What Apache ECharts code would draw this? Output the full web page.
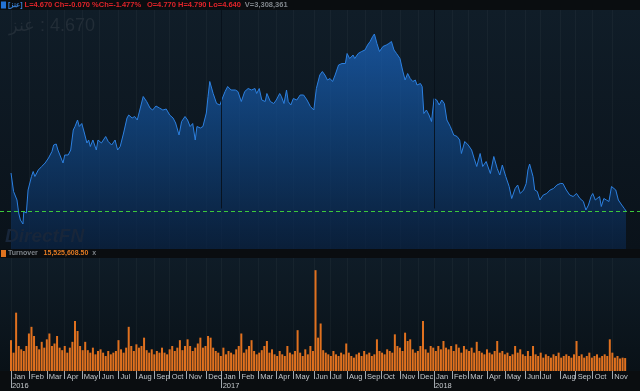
<!DOCTYPE html>
<html>
<head>
<meta charset="utf-8">
<script src="https://cdn.jsdelivr.net/npm/echarts@6/dist/echarts.min.js"></script>
<style>
html,body{margin:0;padding:0;background:#0a0d10;}
#c{width:640px;height:391px;}
</style>
</head>
<body>
<div id="c"></div>
<script>
// ---- data (trading-day index, price) ----
const priceDay = [
0,3,7,9,11,14,15,18,20,24,
26,28,32,36,40,44,48,50,53,55,
57,61,63,67,70,73,75,78,80,83,
86,89,91,93,96,100,102,106,111,114,
118,122,125,128,132,136,138,142,145,148,
151,155,159,163,166,170,174,178,182,186,
190,193,197,200,204,207,210,213,216,218,
222,225,229,231,233,237,241,245,247,251,
254,258,263,266,270,274,278,282,286,288,
291,294,298,300,304,308,311,315,317,320,
323,325,328,331,335,339,343,347,351,355,
358,362,365,368,371,374,377,380,384,388,
392,394,397,401,403,407,411,415,418,421,
424,426,429,432,436,440,443,446,449,452,
456,459,462,465,468,471,474,476,480,482,
484,487,490,493,496,499,502,505,508,511,
515,519,523,526,528,532,536,540,543,546,
550,553,557,562,566,570,573,576,580,584,
587,591,594,597,601,604,606,608,612,614,
617,620,624,628,632,636,640,644,647,651,
655,659,663,667,671,674,677,680,682,685,
687,690,692,695,698,701,704,706,709,712,
716,719,721];
const priceValue = [
5.43,5.06,4.89,4.63,4.49,4.41,4.66,4.63,5.09,5.36,
5.46,5.36,5.49,5.56,5.63,5.73,5.86,5.99,6.01,5.89,
5.93,5.63,5.79,5.79,5.89,6.29,6.36,6.49,6.36,6.42,
6.23,6.03,6.09,5.96,6.09,5.89,6.09,6.03,6.16,6.06,
5.99,6.09,5.89,5.96,6.23,6.53,6.59,6.53,6.56,6.49,
6.69,6.96,6.86,6.73,6.69,6.77,6.73,6.69,6.71,6.59,
6.53,6.43,6.19,6.46,6.56,6.49,6.36,6.42,6.09,6.36,
6.33,6.36,6.63,6.96,7.26,7.02,6.82,6.79,6.89,7.06,
7.16,7.09,7.09,7.06,6.86,7.06,7.12,7.09,7.12,7.02,
7.12,6.89,6.86,7.02,6.86,6.82,6.89,7.02,6.96,6.82,
7.09,6.86,6.79,6.92,6.89,6.99,6.99,6.89,6.76,6.69,
7.12,7.39,7.46,7.39,7.29,7.32,7.26,7.39,7.59,7.62,
7.62,7.82,7.72,7.79,7.72,7.82,7.86,7.89,7.99,8.06,
8.16,8.21,8.02,7.86,7.96,7.99,8.02,8.06,7.89,7.82,
7.72,7.49,7.29,7.42,7.32,7.26,7.29,7.19,7.22,7.16,
6.62,6.69,6.59,6.46,6.92,6.89,6.79,6.89,6.82,6.49,
6.36,6.19,6.16,6.09,5.82,6.06,5.99,5.89,5.72,5.56,
5.82,5.56,5.66,5.42,5.76,5.52,5.39,5.59,5.36,5.16,
4.92,5.12,5.19,5.02,5.09,5.22,5.49,5.61,5.36,5.09,
5.06,4.89,4.99,5.02,5.09,5.12,5.19,5.22,5.22,5.09,
4.99,4.96,5.02,4.92,4.86,4.69,4.79,4.96,5.02,4.89,
4.86,4.96,4.76,4.92,4.89,4.86,5.16,5.19,5.09,4.89,
4.79,4.72,4.67];

// turnover (millions), one bar every 3 trading days
const turnoverStep = 3;
const turnover = [
37,22,70,30,26,24,30,45,53,42,
30,26,35,28,38,45,30,33,42,28,
25,30,22,28,35,60,48,30,25,35,
25,22,28,20,24,26,22,18,24,20,
22,24,37,26,22,28,53,30,24,32,
28,30,40,25,22,26,20,24,22,28,
22,20,26,30,24,28,37,25,30,38,
30,24,28,33,40,28,30,42,40,28,
24,22,18,28,20,24,22,20,26,30,
45,22,26,30,37,24,20,22,25,30,
36,22,26,20,18,24,20,18,30,22,
20,24,49,22,18,26,20,30,24,121,
40,57,25,22,20,18,24,20,18,22,
20,33,22,18,16,20,22,18,24,20,
22,18,20,38,24,22,20,26,24,22,
44,30,28,24,46,36,38,26,22,24,
30,60,26,22,30,28,24,30,26,36,
28,26,30,24,32,28,22,30,26,24,
28,22,35,24,22,20,26,22,20,24,
36,22,24,20,22,18,20,30,22,26,
20,18,24,18,30,20,18,22,16,20,
18,16,20,18,22,16,18,20,18,16,
20,36,18,20,16,18,22,16,18,20,
16,18,20,18,38,22,16,18,15,16,
15.53];

// month ticks (trading-day index) and labels
const monthDays = [0,21,42,63,83,104,126,147,168,186,206,229,
  247,268,290,311,331,355,374,394,415,434,456,477,
  496,517,536,558,579,603,620,644,662,682,705];
const monthLabels = ['Jan','Feb','Mar','Apr','May','Jun','Jul','Aug','Sep','Oct','Nov','Dec',
  'Jan','Feb','Mar','Apr','May','Jun','Jul','Aug','Sep','Oct','Nov','Dec',
  'Jan','Feb','Mar','Apr','May','Jun','Jul','Aug','Sep','Oct','Nov'];
const yearDays = [0,247,496];
const yearLabels = ['2016','2017','2018'];

const symbol = '[عنز]';
const quoteText = 'L=4.670 Ch=-0.070 %Ch=-1.477%';
const ohlText = 'O=4.770 H=4.790 Lo=4.640';
const volText = 'V=3,308,361';
const lastPrice = 4.67;
const lastTurnover = '15,525,608.50';

const priceData = priceDay.map((d,i)=>[d, priceValue[i]]);
const turnoverData = turnover.map((v,i)=>[i*turnoverStep, v]);

const XMIN = -12.9, XMAX = 737.4;
const font = '"Liberation Sans", Arial, sans-serif';

const chart = echarts.init(document.getElementById('c'), null, {renderer:'canvas'});
chart.setOption({
  animation:false,
  backgroundColor:'#0a0d10',
  textStyle:{fontFamily:font},
  title:[
    {left:1, top:1, padding:0,
     text:'{sq|}{s| }{tk|'+symbol+'}{s| }{r|'+quoteText+'}{s|   }{r|'+ohlText+'}{s|  }{g|'+volText+'}',
     textStyle:{fontSize:7, rich:{
       sq:{width:5,height:7,backgroundColor:'#2272d6'},
       s:{fontSize:7},
       tk:{color:'#3d86dc',fontSize:7,fontFamily:font},
       r:{color:'#e0242a',fontSize:7.5,fontFamily:font},
       g:{color:'#80868c',fontSize:7.5,fontFamily:font}
     }}},
    {left:9, top:17, padding:0,
     text:'عنز\u200E : 4.670',
     textStyle:{fontSize:18, color:'#222d37', fontWeight:'normal', fontFamily:font}},
    {left:5, top:227, padding:0, text:'DirectFN',
     textStyle:{fontSize:19, color:'#18263a', fontWeight:'bold', fontStyle:'italic', fontFamily:font}},
    {left:1, top:250, padding:0,
     text:'{sq|}{s| }{g|Turnover}{s|   }{o|'+lastTurnover+'}{s|  }{g|x}',
     textStyle:{fontSize:7, rich:{
       sq:{width:5,height:7,backgroundColor:'#e0731f'},
       s:{fontSize:7},
       g:{color:'#7d8389',fontSize:7,fontFamily:font},
       o:{color:'#e27a22',fontSize:7,fontFamily:font}
     }}}
  ],
  grid:[
    {left:0, top:10, width:640, height:239, show:true, borderWidth:0,
     backgroundColor:{type:'linear',x:0,y:0,x2:0,y2:1,colorStops:[{offset:0,color:'#101d28'},{offset:1,color:'#0a121a'}]}},
    {left:0, top:258, width:640, height:113, show:true, borderWidth:0,
     backgroundColor:{type:'linear',x:0,y:0,x2:0,y2:1,colorStops:[{offset:0,color:'#0f1c27'},{offset:1,color:'#091117'}]}}
  ],
  xAxis:[
    {type:'value', gridIndex:0, position:'bottom', min:XMIN, max:XMAX,
     axisLine:{show:false}, axisLabel:{show:false},
     axisTick:{show:false, customValues:monthDays},
     splitLine:{show:true, lineStyle:{color:'rgba(255,255,255,0.035)', width:1}}},
    {type:'value', gridIndex:1, position:'bottom', min:XMIN, max:XMAX,
     axisLine:{show:false},
     axisTick:{show:true, customValues:monthDays, length:8, lineStyle:{color:'#a3a9af', width:1}},
     axisLabel:{show:true, customValues:monthDays, margin:2, align:'left', padding:[0,0,0,2],
       showMinLabel:true, showMaxLabel:true, hideOverlap:false,
       fontSize:7.5, color:'#c3c7cb', fontFamily:font,
       formatter:(v)=>monthLabels[monthDays.indexOf(v)] || ''},
     splitLine:{show:true, lineStyle:{color:'rgba(255,255,255,0.035)', width:1}}},
    {type:'value', gridIndex:1, position:'bottom', min:XMIN, max:XMAX,
     axisLine:{show:false},
     axisTick:{show:true, customValues:yearDays, length:17, lineStyle:{color:'#a3a9af', width:1}},
     axisLabel:{show:true, customValues:yearDays, margin:11, align:'left', padding:[0,0,0,1],
       showMinLabel:true, showMaxLabel:true, hideOverlap:false,
       fontSize:7.5, color:'#c3c7cb', fontFamily:font,
       formatter:(v)=>yearLabels[yearDays.indexOf(v)] || ''},
     splitLine:{show:false}}
  ],
  yAxis:[
    {type:'value', gridIndex:0, min:3.91, max:8.69, show:true,
     axisLine:{show:false}, axisTick:{show:false}, axisLabel:{show:false},
     splitLine:{show:false}},
    {type:'value', gridIndex:1, min:0, max:135.6, show:true,
     axisLine:{show:false}, axisTick:{show:false}, axisLabel:{show:false},
     splitLine:{show:false}}
  ],
  series:[
    {type:'line', xAxisIndex:0, yAxisIndex:0, data:priceData, symbol:'none',
     lineStyle:{color:'#2c80e0', width:1},
     areaStyle:{origin:'start', color:{type:'linear',x:0,y:0,x2:0,y2:1,colorStops:[
       {offset:0,color:'#1b68c6'},{offset:0.45,color:'#114a8c'},{offset:1,color:'#0a2446'}]}},
     markLine:{silent:true, symbol:['none','none'], label:{show:false},
       data:[
         [{coord:[yearDays[1],4.72], lineStyle:{color:'rgba(6,14,24,0.85)',width:1,type:'solid'}},{coord:[yearDays[1],8.69]}],
         [{coord:[yearDays[2],4.72], lineStyle:{color:'rgba(6,14,24,0.85)',width:1,type:'solid'}},{coord:[yearDays[2],8.69]}],
         {yAxis:lastPrice, lineStyle:{color:'#3cc83c', width:1, type:[4,3]}}
       ]}},
    {type:'bar', xAxisIndex:1, yAxisIndex:1, data:turnoverData, barWidth:2,
     itemStyle:{color:'#e0711f'}}
  ]
});
</script>
</body>
</html>
